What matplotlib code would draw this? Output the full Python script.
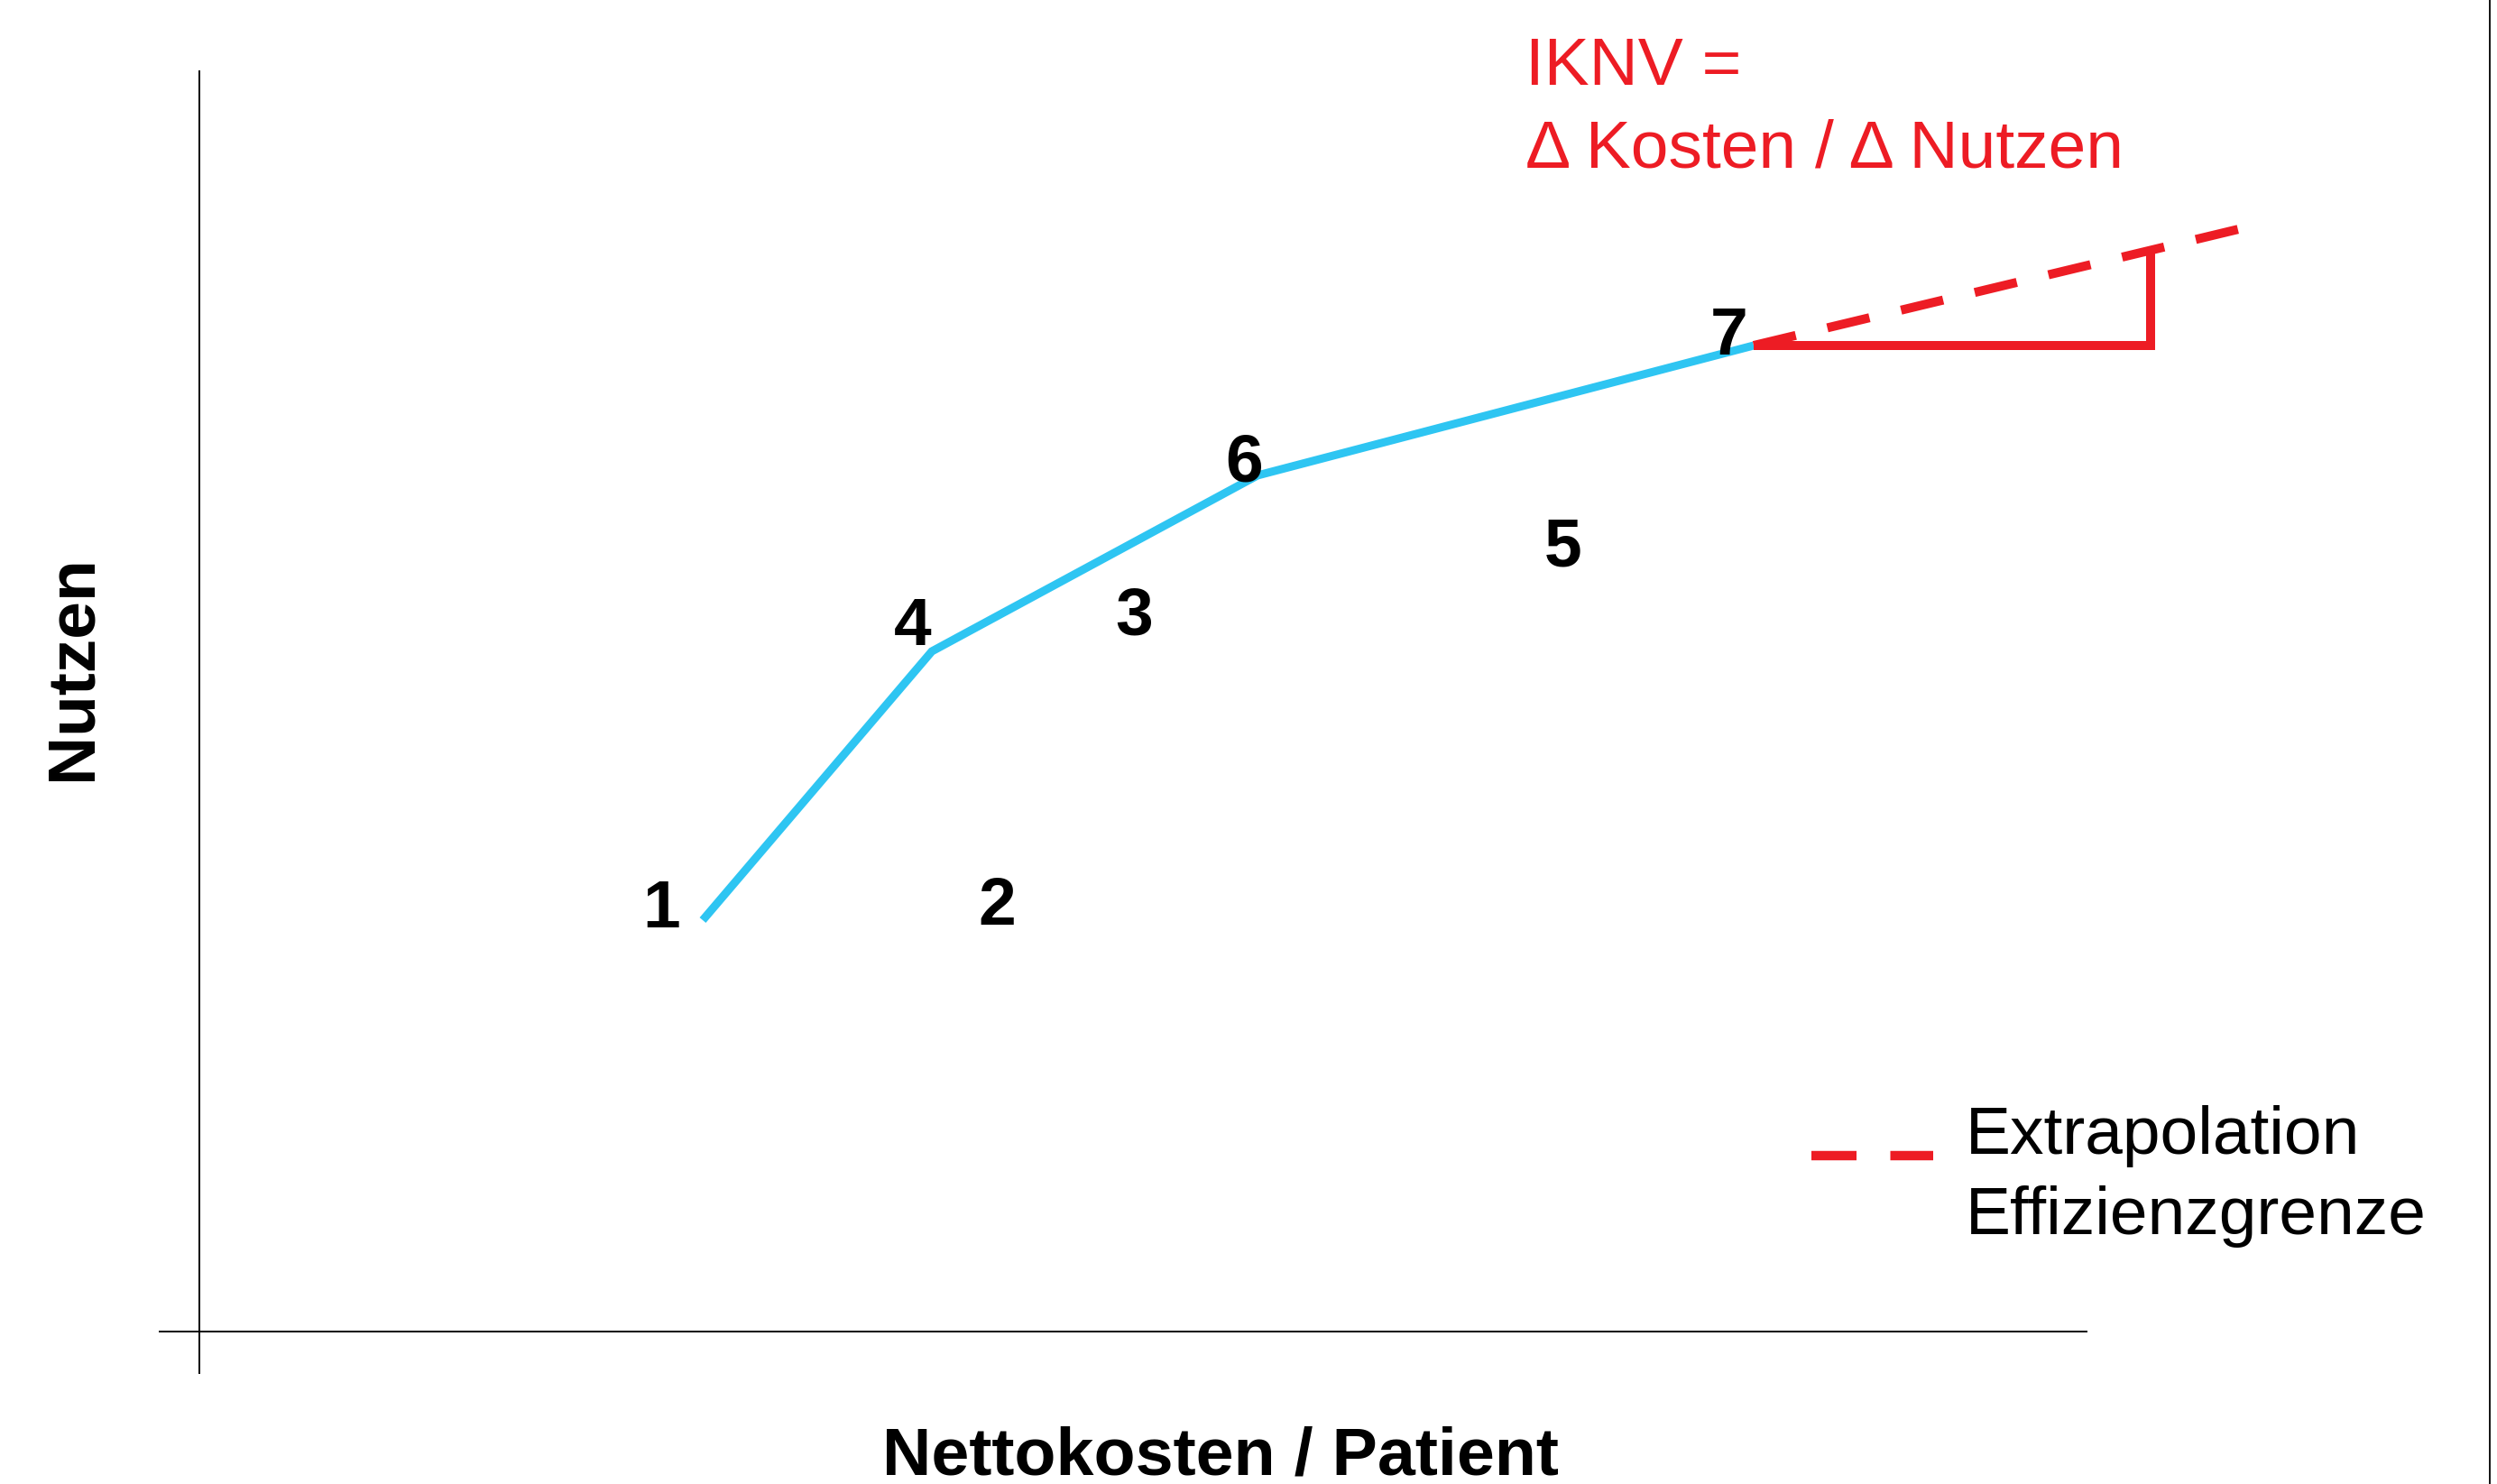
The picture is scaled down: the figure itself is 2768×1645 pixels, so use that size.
import matplotlib
matplotlib.use("Agg")
import matplotlib.pyplot as plt
from matplotlib.lines import Line2D

plt.rcParams['font.family'] = ['Liberation Sans', 'DejaVu Sans']

# ---- data (arbitrary units: cost vs. benefit) ----
alt_labels = ["1", "2", "3", "4", "5", "6", "7"]
alt_cost = [5.12, 8.84, 10.36, 7.91, 15.12, 11.58, 16.96]
alt_benefit = [4.48, 4.51, 7.73, 7.61, 8.49, 9.42, 10.83]

frontier_cost = [5.58, 8.12, 11.73, 17.23]
frontier_benefit = [4.56, 7.54, 9.49, 10.93]

extrap_cost = [17.23, 22.69]
extrap_benefit = [10.93, 12.24]

triangle_cost = [17.23, 21.63, 21.63]
triangle_benefit = [10.93, 10.93, 11.95]

xaxis_bounds = [-0.44, 20.92]
yaxis_bounds = [-0.46, 13.97]

legend_cost = [17.87, 19.22]
legend_benefit = [1.95, 1.95]
legend_texts = ["Extrapolation", "Effizienzgrenze"]
iknv_texts = ["IKNV =", "\u0394 Kosten / \u0394 Nutzen"]

xlabel = "Nettokosten / Patient"
ylabel = "Nutzen"

BLUE = "#2EC5F2"
RED = "#ED1C24"

W, H = 2768, 1645
OX, OY, S = 221, 1476, 100.0

fig = plt.figure(figsize=(W / 100, H / 100), dpi=100)
ax = fig.add_axes([0, 0, 1, 1])
ax.set_xlim(-OX / S, (W - OX) / S)
ax.set_ylim(-(H - OY) / S, OY / S)
ax.set_xticks([])
ax.set_yticks([])
for s in ["top", "right"]:
    ax.spines[s].set_visible(False)
ax.spines["left"].set_position(("data", 0))
ax.spines["bottom"].set_position(("data", 0))
ax.spines["left"].set_bounds(*yaxis_bounds)
ax.spines["bottom"].set_bounds(*xaxis_bounds)
for s in ["left", "bottom"]:
    ax.spines[s].set_linewidth(1.4)
    ax.spines[s].set_color("black")

# efficiency frontier
ax.plot(frontier_cost, frontier_benefit, color=BLUE, lw=6.5,
        solid_capstyle="butt", solid_joinstyle="miter", zorder=3)

# extrapolation
ax.plot(extrap_cost, extrap_benefit, color=RED, lw=7.2,
        linestyle=(0, (4.8, 3.6)), dash_capstyle="butt", zorder=4)
ax.plot(triangle_cost, triangle_benefit, color=RED, lw=7.2,
        solid_capstyle="butt", solid_joinstyle="miter", zorder=4)

# alternative labels
for lab, c, b in zip(alt_labels, alt_cost, alt_benefit):
    ax.text(c, b, lab, ha="center", va="baseline", fontsize=54,
            fontweight="bold", color="black", zorder=5)

# IKNV annotation
ax.text((1691 - OX) / S, (OY - 94) / S, iknv_texts[0], ha="left",
        va="baseline", fontsize=54, color=RED)
ax.text((1691 - OX) / S, (OY - 186) / S, iknv_texts[1], ha="left",
        va="baseline", fontsize=54, color=RED)

# legend
ax.plot(legend_cost, legend_benefit, color=RED, lw=7.5,
        linestyle=(0, (4.8, 3.6)), dash_capstyle="butt")
ax.text((2179 - OX) / S, (OY - 1279) / S, legend_texts[0], ha="left",
        va="baseline", fontsize=54, color="black")
ax.text((2179 - OX) / S, (OY - 1368) / S, legend_texts[1], ha="left",
        va="baseline", fontsize=54, color="black")

# axis labels
ax.text((1353 - OX) / S, (OY - 1634) / S, xlabel, ha="center",
        va="baseline", fontsize=54.3, fontweight="bold")
ax.text((100 - OX) / S, (OY - 740) / S, ylabel, ha="center",
        va="baseline", rotation=90, rotation_mode="anchor",
        fontsize=54, fontweight="bold")

# right border line
fig.add_artist(Line2D([2760 / W, 2760 / W], [0, 1], transform=fig.transFigure,
                      color="black", lw=1.3))

fig.savefig("out.png", dpi=100)
